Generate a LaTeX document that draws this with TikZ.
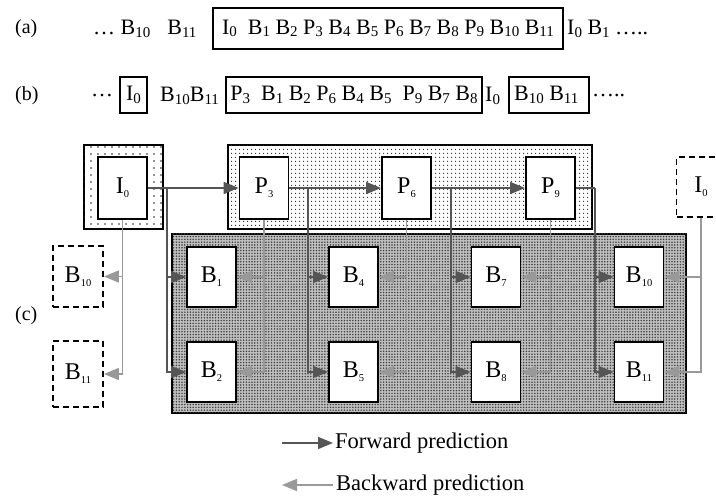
\documentclass[tikz,border=0pt]{standalone}
\usepackage{fontspec}
\setmainfont{Liberation Serif}
\usetikzlibrary{arrows.meta,patterns.meta}

% subscripts: larger ones for the frame sequences, small ones inside the frames
\newcommand{\rsub}[1]{\raisebox{-2.5pt}{\fontsize{15}{15}\selectfont #1}}
\newcommand{\bsub}[1]{\raisebox{-4pt}{\fontsize{10.5}{10.5}\selectfont #1}}

\definecolor{fwdgray}{HTML}{555555}
\definecolor{bwdgray}{HTML}{999999}

\tikzset{
  rowtxt/.style={font=\fontsize{22}{26}\selectfont, inner sep=0pt, anchor=west},
  tag/.style={font=\fontsize{20}{22}\selectfont, inner sep=0pt, anchor=west},
  seqbox/.style={draw, line width=1.5pt, inner sep=0pt, font=\fontsize{22}{26}\selectfont},
  frame/.style={draw, fill=white, line width=1.8pt, minimum width=49pt,
    minimum height=60pt, inner sep=0pt, font=\fontsize{24}{26}\selectfont},
  ghost/.style={frame, dash pattern=on 6pt off 4pt},
  igroup/.style={draw, line width=1.8pt, inner sep=0pt, fill=white,
    postaction={pattern={Dots[distance=7pt, radius=0.95pt]}, pattern color=black!85}},
  pgroup/.style={draw, line width=1.8pt, inner sep=0pt, fill=white,
    postaction={pattern={Dots[distance=4pt, radius=0.8pt]}, pattern color=black!85}},
  bgroup/.style={draw, line width=1.8pt, inner sep=0pt, fill=black!25,
    postaction={pattern={Dots[distance=2.8pt, radius=0.85pt]}, pattern color=black!75}},
  tip/.style={-{Triangle[length=15pt, width=12pt]}},
  fwd/.style={draw=fwdgray, line width=1.6pt, tip},
  fwdline/.style={draw=fwdgray, line width=1.6pt},
  bwd/.style={draw=bwdgray, line width=1.6pt, tip},
  legtxt/.style={font=\fontsize{22.5}{26}\selectfont, inner sep=0pt, anchor=west},
}

\begin{document}
\begin{tikzpicture}[x=1pt, y=-1pt]
  \useasboundingbox (0,0) rectangle (716,497);
  \fill[white] (0,0) rectangle (716,497);
  \clip (0,0) rectangle (716,497);

  % ---------- (a) display order ----------
  \node[tag] (tagA) at (15,29) {(a)};
  \node[rowtxt] (preA) at (93,29) {\ldots\ B\rsub{10}\hspace{17pt}B\rsub{11}};
  \node[seqbox, minimum width=350pt, minimum height=41pt] (seqA) at (388,28.5)
    {I\rsub{0}\ \ B\rsub{1} B\rsub{2} P\rsub{3} B\rsub{4} B\rsub{5} P\rsub{6} B\rsub{7} B\rsub{8} P\rsub{9} B\rsub{10} B\rsub{11}};
  \node[rowtxt] (postA) at (567,29) {I\rsub{0} B\rsub{1} \ldots..};

  % ---------- (b) coding order ----------
  \node[tag] (tagB) at (15,96) {(b)};
  \node[rowtxt] (preB) at (91,96) {\ldots};
  \node[seqbox, minimum width=27pt, minimum height=36pt] (seqB1) at (133.5,95) {I\rsub{0}};
  \node[rowtxt] (midB) at (160,96) {B\rsub{10}B\rsub{11}};
  \node[seqbox, minimum width=256pt, minimum height=36pt] (seqB2) at (354,95)
    {P\rsub{3}\ \ B\rsub{1} B\rsub{2} P\rsub{6} B\rsub{4} B\rsub{5}\ \ P\rsub{9} B\rsub{7} B\rsub{8}};
  \node[rowtxt] (iB) at (485,96) {I\rsub{0}};
  \node[seqbox, minimum width=80pt, minimum height=36pt] (seqB3) at (549,95) {B\rsub{10} B\rsub{11}\ \ };
  \node[rowtxt] (postB) at (592,96) {\ldots..};

  % ---------- (c) prediction structure ----------
  \node[tag] (tagC) at (15,316) {(c)};

  % shaded groups
  \node[igroup, minimum width=79pt, minimum height=84pt] (grpI) at (123.5,187) {};
  \node[pgroup, minimum width=364pt, minimum height=84pt] (grpP) at (410,187) {};
  \node[bgroup, minimum width=514pt, minimum height=179pt] (grpB) at (429,323.5) {};

  % anchor frames
  \node[frame, minimum height=62pt] (I0) at (122.5,188) {I\bsub{0}};
  \node[frame, minimum height=62pt] (P3) at (264,188) {P\bsub{3}};
  \node[frame, minimum height=62pt] (P6) at (406.5,188) {P\bsub{6}};
  \node[frame, minimum height=62pt] (P9) at (550.5,188) {P\bsub{9}};
  \node[ghost] (I0n) at (701,187) {I\bsub{0}};

  % previous group's B frames
  \node[ghost, minimum width=50pt, minimum height=61pt] (B10p) at (78,276.5) {B\bsub{10}};
  \node[ghost, minimum width=50pt, minimum height=66pt] (B11p) at (78,374) {B\bsub{11}};

  % B frames of the current group
  \node[frame] (B1) at (211.5,277) {B\bsub{1}};
  \node[frame] (B2) at (211.5,372) {B\bsub{2}};
  \node[frame] (B4) at (353.5,277) {B\bsub{4}};
  \node[frame] (B5) at (353.5,372) {B\bsub{5}};
  \node[frame] (B7) at (496,277) {B\bsub{7}};
  \node[frame] (B8) at (496,372) {B\bsub{8}};
  \node[frame] (B10) at (639,277) {B\bsub{10}};
  \node[frame] (B11) at (639,372) {B\bsub{11}};

  % branch points on the forward chain
  \coordinate (j0) at (167,188);
  \coordinate (j3) at (308,188);
  \coordinate (j6) at (451,188);
  \coordinate (j9) at (595,188);

  % backward prediction
  \draw[bwd] (I0.south) |- (B10p.east);
  \draw[bwd] (I0.south) |- (B11p.east);
  \draw[bwd] (P3.south) |- (B1.east);
  \draw[bwd] (P3.south) |- (B2.east);
  \draw[bwd] (P6.south) |- (B4.east);
  \draw[bwd] (P6.south) |- (B5.east);
  \draw[bwd] (P9.south) |- (B7.east);
  \draw[bwd] (P9.south) |- (B8.east);
  \draw[bwd] (I0n.south) |- (B10.east);
  \draw[bwd] (I0n.south) |- (B11.east);

  % forward prediction
  \draw[fwd] (I0.east) -- (P3.west);
  \draw[fwd] (P3.east) -- (P6.west);
  \draw[fwd] (P6.east) -- (P9.west);
  \draw[fwdline] (P9.east) -- (j9);
  \draw[fwd] (j0) |- (B1.west);
  \draw[fwd] (j0) |- (B2.west);
  \draw[fwd] (j3) |- (B4.west);
  \draw[fwd] (j3) |- (B5.west);
  \draw[fwd] (j6) |- (B7.west);
  \draw[fwd] (j6) |- (B8.west);
  \draw[fwd] (j9) |- (B10.west);
  \draw[fwd] (j9) |- (B11.west);

  % legend
  \node[legtxt] (fwdtxt) at (335,443) {Forward prediction};
  \coordinate (fwdtail) at (282,443);
  \draw[fwd, shorten >=2pt] (fwdtail) -- (fwdtxt.west);
  \node[legtxt] (bwdtxt) at (336,485) {Backward prediction};
  \coordinate (bwdhead) at (282,485);
  \draw[bwd, shorten <=3pt] (bwdtxt.west) -- (bwdhead);
\end{tikzpicture}
\end{document}
